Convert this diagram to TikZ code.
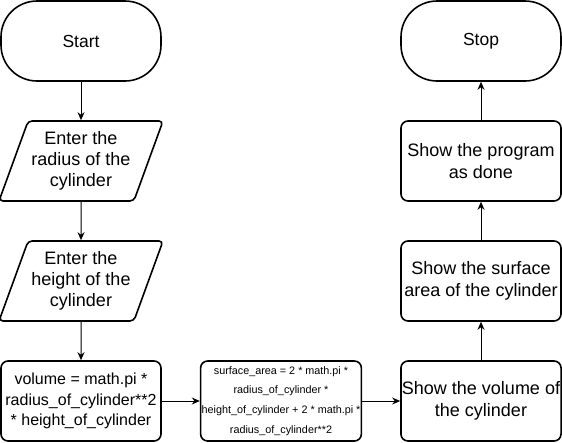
\documentclass[tikz,border=0pt]{standalone}
\usepackage{fontspec}
\setmainfont{Liberation Sans}
\usetikzlibrary{calc, shapes.geometric, arrows.meta}

\begin{document}
\begin{tikzpicture}[x=1pt, y=-1pt]
    \tikzstyle{terminal} = [rectangle, rounded corners=36pt, draw, line width=1.6pt,
        minimum width=160pt, minimum height=80pt, font=\fontsize{17.5}{21.5}\selectfont]
    \tikzstyle{io} = [trapezium, trapezium left angle=66, trapezium right angle=114,
        trapezium stretches=true, rounded corners=4pt, draw, line width=1.6pt,
        minimum width=160pt, minimum height=80pt, align=center,
        font=\fontsize{18}{21}\selectfont]
    \tikzstyle{process} = [rectangle, rounded corners=7pt, draw, line width=1.6pt,
        minimum width=160pt, minimum height=80pt, inner sep=1pt, align=center,
        font=\fontsize{18}{21.5}\selectfont]
    \tikzstyle{formula} = [font=\fontsize{16}{20.5}\selectfont]
    \tikzstyle{small} = [font=\fontsize{10.8}{19.7}\selectfont]
    \tikzstyle{flow} = [line width=1pt, -{Stealth[length=8pt, width=7pt]}]

    \useasboundingbox (0, 0) rectangle (562, 442);

    % Input side ----------------------------------------
    \node (start) at (81, 41) [terminal] {Start};
    \node (radius) at ($(start) + (0, 120)$) [io] {Enter the\\radius of the\\cylinder};
    \node (height) at ($(radius) + (0, 120)$) [io] {Enter the\\height of the\\cylinder};
    \node (volume) at ($(height) + (0, 120)$) [process, formula]
        {volume = math.pi *\\radius\_of\_cylinder**2\\* height\_of\_cylinder};
    % ---------------------------------------------------

    % Calculations and output ---------------------------
    \node (surface) at ($(volume) + (200, 0)$) [process, small]
        {surface\_area = 2 * math.pi *\\radius\_of\_cylinder *\\height\_of\_cylinder + 2 * math.pi *\\radius\_of\_cylinder**2};
    \node (showvol) at ($(surface) + (200, 0)$) [process] {Show the volume of\\the cylinder};
    \node (showarea) at ($(showvol) + (0, -120)$) [process] {Show the surface\\area of the cylinder};
    \node (done) at ($(showarea) + (0, -120)$) [process] {Show the program\\as done};
    \node (stop) at ($(done) + (0, -120)$) [terminal] {Stop};
    % ---------------------------------------------------

    \draw [flow] (start) -- (radius);
    \draw [flow] (radius) -- (height);
    \draw [flow] (height) -- (volume);
    \draw [flow] (volume) -- (surface);
    \draw [flow] (surface) -- (showvol);
    \draw [flow] (showvol) -- (showarea);
    \draw [flow] (showarea) -- (done);
    \draw [flow] (done) -- (stop);
\end{tikzpicture}
\end{document}
